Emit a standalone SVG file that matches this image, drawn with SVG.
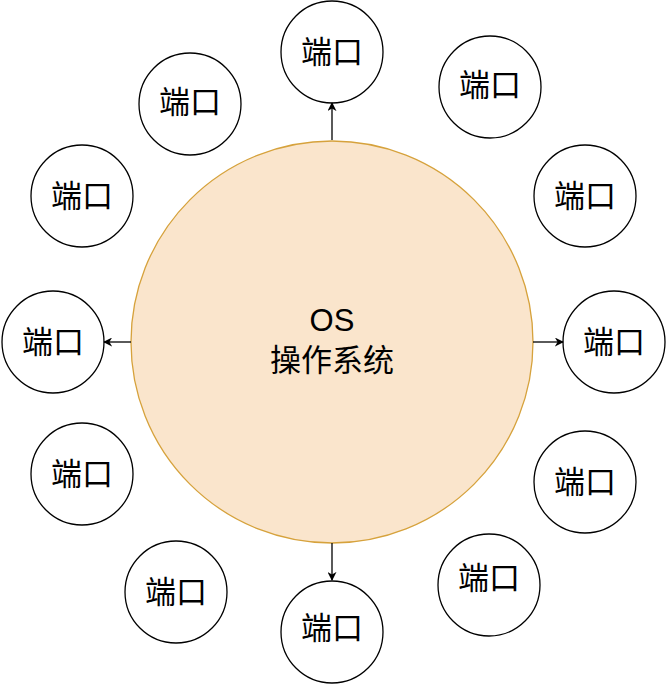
<svg xmlns="http://www.w3.org/2000/svg" width="668" height="684" viewBox="0 0 668 684">
<style>
.p{fill:#fff;stroke:#000;stroke-width:1.3}
text{font-family:"Liberation Sans","Noto Sans CJK SC",sans-serif;font-size:31px;text-anchor:middle;dominant-baseline:central;fill:#000}
.c{stroke:#000;stroke-width:1.3;fill:none;marker-end:url(#a)}
</style>
<defs><marker id="a" viewBox="0 0 10 10" refX="9" refY="5" markerWidth="9" markerHeight="9" markerUnits="userSpaceOnUse" orient="auto"><path d="M0,0L10,5L0,10L3,5Z" fill="#000"/></marker></defs>
<rect width="668" height="684" fill="#fff"/>
<g id="os"><circle cx="332" cy="342" r="201" fill="#fae5cc" stroke="#d6a23c" stroke-width="1.3"/><text x="332" y="320">OS</text><text x="332" y="360">操作系统</text></g>
<g id="n1"><circle class="p" cx="332" cy="52" r="51"/><text x="332" y="52">端口</text></g>
<g id="n2"><circle class="p" cx="190" cy="104" r="51"/><text x="190" y="102">端口</text></g>
<g id="n3"><circle class="p" cx="490" cy="87" r="51"/><text x="490" y="85">端口</text></g>
<g id="n4"><circle class="p" cx="82" cy="196" r="51"/><text x="82" y="196">端口</text></g>
<g id="n5"><circle class="p" cx="585" cy="196" r="51"/><text x="585" y="196">端口</text></g>
<g id="n6"><circle class="p" cx="53" cy="342" r="51"/><text x="53" y="342">端口</text></g>
<g id="n7"><circle class="p" cx="614" cy="342" r="51"/><text x="614" y="342">端口</text></g>
<g id="n8"><circle class="p" cx="82" cy="474" r="51"/><text x="82" y="474">端口</text></g>
<g id="n9"><circle class="p" cx="585" cy="482" r="51"/><text x="585" y="482">端口</text></g>
<g id="n10"><circle class="p" cx="176" cy="592" r="51"/><text x="176" y="592">端口</text></g>
<g id="n11"><circle class="p" cx="332" cy="632" r="51"/><text x="332" y="628">端口</text></g>
<g id="n12"><circle class="p" cx="489" cy="585" r="51"/><text x="489" y="578">端口</text></g>
<g id="connectors">
<path class="c" d="M332,140V103"/>
<path class="c" d="M131,342H104"/>
<path class="c" d="M533,342H563"/>
<path class="c" d="M332,543V580"/>
</g>
</svg>
